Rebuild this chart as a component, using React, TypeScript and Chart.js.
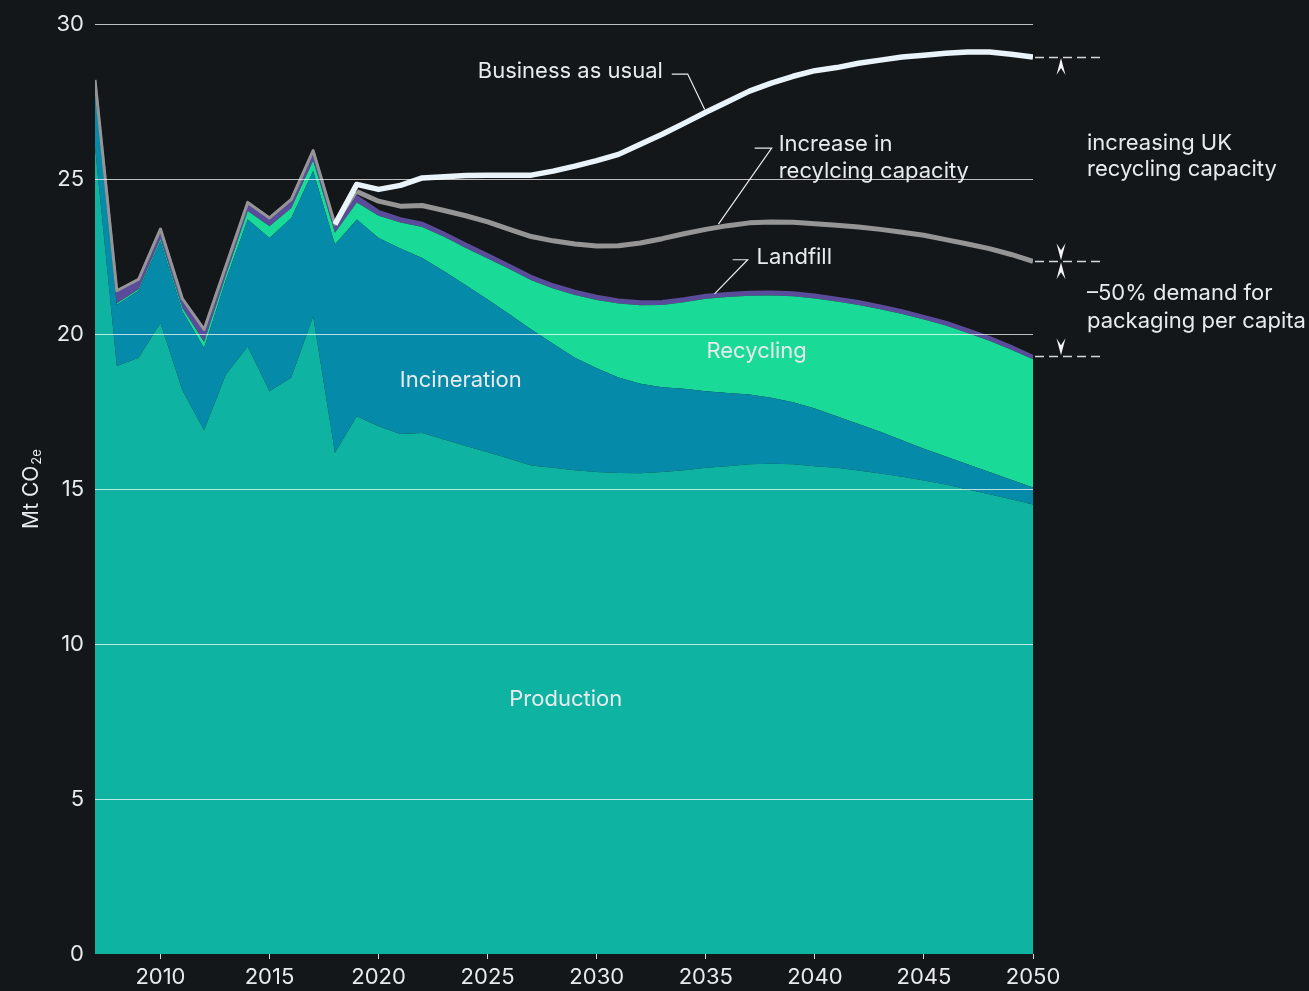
import React, { useEffect, useRef } from "react";
import { Chart, registerables } from "chart.js";

Chart.register(...registerables);

// ---------- DATA ----------
const years = [
  2007, 2008, 2009, 2010, 2011, 2012, 2013, 2014, 2015, 2016, 2017, 2018, 2019,
  2020, 2021, 2022, 2023, 2024, 2025, 2026, 2027, 2028, 2029,
  2030, 2031, 2032, 2033, 2034, 2035, 2036, 2037, 2038, 2039,
  2040, 2041, 2042, 2043, 2044, 2045, 2046, 2047, 2048, 2049, 2050,
];

const production = [
  26.05, 18.97, 19.24, 20.36, 18.2, 16.9, 18.7, 19.6, 18.16, 18.6, 20.58, 16.17, 17.35,
  17.03, 16.78, 16.81, 16.6, 16.39, 16.19, 15.98, 15.76, 15.69, 15.61,
  15.55, 15.52, 15.51, 15.55, 15.61, 15.69, 15.74, 15.8, 15.82, 15.8,
  15.74, 15.69, 15.6, 15.5, 15.4, 15.28, 15.15, 14.99, 14.83, 14.67, 14.5,
];

const incineration = [
  1.8, 1.98, 2.16, 2.64, 2.55, 2.65, 3.05, 4.1, 4.94, 5.15, 4.68, 6.72, 6.35,
  6.07, 5.98, 5.65, 5.43, 5.19, 4.93, 4.66, 4.39, 4.0, 3.63,
  3.35, 3.08, 2.89, 2.74, 2.63, 2.47, 2.36, 2.25, 2.13, 2.0,
  1.86, 1.66, 1.5, 1.35, 1.18, 1.02, 0.9, 0.81, 0.72, 0.63, 0.55,
];

const recycling = [
  0.0, 0.05, 0.05, 0.08, 0.1, 0.2, 0.15, 0.27, 0.38, 0.32, 0.34, 0.38, 0.55,
  0.72, 0.84, 1.0, 1.11, 1.2, 1.32, 1.46, 1.59, 1.78, 2.02,
  2.2, 2.39, 2.53, 2.65, 2.79, 2.98, 3.1, 3.19, 3.3, 3.42,
  3.55, 3.7, 3.84, 3.95, 4.07, 4.17, 4.23, 4.24, 4.24, 4.2, 4.14,
];

const landfill = [
  0.35, 0.4, 0.32, 0.31, 0.3, 0.4, 0.3, 0.28, 0.27, 0.28, 0.32, 0.27, 0.2,
  0.15, 0.13, 0.13, 0.13, 0.13, 0.13, 0.13, 0.13, 0.13, 0.13,
  0.13, 0.12, 0.12, 0.12, 0.12, 0.12, 0.12, 0.12, 0.12, 0.12,
  0.12, 0.12, 0.12, 0.12, 0.11, 0.11, 0.11, 0.11, 0.11, 0.11, 0.1,
];

// "Increase in recycling capacity" scenario total
const recyclingCapacity = [
  28.2, 21.4, 21.77, 23.39, 21.15, 20.15, 22.2, 24.25, 23.75, 24.35, 25.92, 23.54, 24.6,
  24.29, 24.13, 24.15, 23.99, 23.82, 23.62, 23.38, 23.15, 23.01, 22.91,
  22.84, 22.85, 22.94, 23.08, 23.24, 23.38, 23.5, 23.59, 23.62, 23.61,
  23.56, 23.51, 23.46, 23.38, 23.29, 23.19, 23.05, 22.91, 22.76, 22.57, 22.35,
];

// Business as usual total
const businessAsUsual = [
  null, null, null, null, null, null, null, null, null, null, null, 23.54, 24.83,
  24.67, 24.8, 25.04, 25.08, 25.12, 25.13, 25.13, 25.13, 25.26, 25.42,
  25.6, 25.8, 26.13, 26.45, 26.8, 27.16, 27.5, 27.84, 28.1, 28.32,
  28.5, 28.6, 28.74, 28.84, 28.94, 29.0, 29.06, 29.1, 29.1, 29.03, 28.94,
];

const yTicks = [0, 5, 10, 15, 20, 25, 30];
const xTicks = [2010, 2015, 2020, 2025, 2030, 2035, 2040, 2045, 2050];

// ---------- STYLE ----------
const BG = "#131719";
const C_PRODUCTION = "#0fb3a1";
const C_INCINERATION = "#068aa9";
const C_RECYCLING = "#19da96";
const C_LANDFILL = "#5a4b9b";
const C_GREY = "#959595";
const C_BAU = "#e9f3fa";
const TEXT = "#e8ebee";
const FONT = "Inter, 'Noto Sans', 'DejaVu Sans', sans-serif";
const FS = 22;

const areaLabels = [
  { text: "Production", x: 2028.58, y: 8.2 },
  { text: "Incineration", x: 2023.77, y: 18.5 },
  { text: "Recycling", x: 2037.33, y: 19.45 },
];

const callouts = [
  {
    lines: ["Business as usual"],
    align: "right",
    x: 2033.03,
    y: 28.49,
    leader: [[2033.44, 28.39], [2034.17, 28.39], [2034.95, 27.25]],
  },
  {
    lines: ["Increase in", "recylcing capacity"],
    align: "left",
    x: 2038.34,
    y: 26.13,
    leader: [[2037.24, 26.0], [2038.02, 26.0], [2035.58, 23.55]],
  },
  {
    lines: ["Landfill"],
    align: "left",
    x: 2037.33,
    y: 22.47,
    leader: [[2036.23, 22.4], [2036.92, 22.4], [2035.4, 21.3]],
  },
];

const sideNotes = [
  { text: "increasing UK", y: 26.17 },
  { text: "recycling capacity", y: 25.3 },
  { text: "\u201350% demand for", y: 21.3 },
  { text: "packaging per capita", y: 20.4 },
];

const toPoints = (arr: (number | null)[]) => years.map((yr, i) => ({ x: yr, y: arr[i] }));

const decorPlugin = {
  id: "decor",
  beforeDraw(chart: any) {
    const { ctx, width, height } = chart;
    ctx.save();
    ctx.fillStyle = BG;
    ctx.fillRect(0, 0, width, height);
    ctx.restore();
  },
  afterDatasetsDraw(chart: any) {
    const { ctx, chartArea } = chart;
    const xs = chart.scales.x;
    const ys = chart.scales.y;
    const px = (v: number) => xs.getPixelForValue(v);
    const py = (v: number) => ys.getPixelForValue(v);
    ctx.save();
    ctx.fillStyle = TEXT;
    ctx.strokeStyle = TEXT;
    ctx.font = `${FS}px ${FONT}`;
    ctx.textBaseline = "middle";

    // area labels
    ctx.textAlign = "center";
    areaLabels.forEach((l) => ctx.fillText(l.text, px(l.x), py(l.y)));

    // callouts
    ctx.lineWidth = 1.2;
    callouts.forEach((c) => {
      ctx.textAlign = c.align as CanvasTextAlign;
      c.lines.forEach((t, i) => ctx.fillText(t, px(c.x), py(c.y) + i * 27));
      ctx.beginPath();
      c.leader.forEach(([lx, ly], i) => {
        if (i === 0) ctx.moveTo(px(lx), py(ly));
        else ctx.lineTo(px(lx), py(ly));
      });
      ctx.stroke();
    });

    // right-hand markers
    const last = years.length - 1;
    const total = production[last] + incineration[last] + recycling[last] + landfill[last];
    const levels = [businessAsUsual[last] as number, recyclingCapacity[last], total];
    const x0 = chartArea.right + 2;
    const x1 = chartArea.right + 70;
    ctx.strokeStyle = "#d4d6d8";
    ctx.lineWidth = 1.5;
    ctx.setLineDash([9, 5]);
    levels.forEach((v) => {
      const yy = Math.round(py(v)) + 0.5;
      ctx.beginPath();
      ctx.moveTo(x0, yy);
      ctx.lineTo(x1, yy);
      ctx.stroke();
    });
    ctx.setLineDash([]);

    const ax = chartArea.right + 28;
    const arrow = (tip: number, d: number) => {
      ctx.beginPath();
      ctx.moveTo(ax, tip);
      ctx.lineTo(ax + 4.5, tip + 17 * d);
      ctx.lineTo(ax, tip + 10 * d);
      ctx.lineTo(ax - 4.5, tip + 17 * d);
      ctx.closePath();
      ctx.fillStyle = "#f2f4f5";
      ctx.fill();
    };
    arrow(py(levels[0]) + 1, 1);
    arrow(py(levels[1]) - 1, -1);
    arrow(py(levels[1]) + 1, 1);
    arrow(py(levels[2]) - 1, -1);

    ctx.fillStyle = TEXT;
    ctx.textAlign = "left";
    ctx.font = `${FS}px ${FONT}`;
    sideNotes.forEach((n) => ctx.fillText(n.text, chartArea.right + 54, py(n.y)));

    // y-axis title with subscript
    ctx.save();
    const midY = (chartArea.top + chartArea.bottom) / 2;
    ctx.translate(38, midY + 40);
    ctx.rotate(-Math.PI / 2);
    ctx.textAlign = "left";
    ctx.textBaseline = "alphabetic";
    ctx.font = `21px ${FONT}`;
    ctx.fillText("Mt CO", 0, 0);
    const w = ctx.measureText("Mt CO").width;
    ctx.font = `13px ${FONT}`;
    ctx.fillText("2e", w + 1, 3);
    ctx.restore();

    ctx.restore();
  },
};

export default function App() {
  const ref = useRef<HTMLCanvasElement>(null);

  useEffect(() => {
    document.body.style.margin = "0";
    document.body.style.background = BG;
    const canvas = ref.current!;
    const areaBase = {
      type: "line" as const,
      stack: "emissions",
      pointRadius: 0,
      borderWidth: 0,
      tension: 0,
    };
    const chart = new Chart(canvas, {
      type: "line",
      data: {
        datasets: [
          {
            label: "Business as usual",
            data: toPoints(businessAsUsual),
            stack: "bau",
            borderColor: C_BAU,
            borderWidth: 5.5,
            pointRadius: 0,
            fill: false,
            tension: 0,
            borderJoinStyle: "round",
          },
          {
            label: "Increase in recycling capacity",
            data: toPoints(recyclingCapacity),
            stack: "capacity",
            borderColor: C_GREY,
            borderWidth: 5,
            pointRadius: 0,
            fill: false,
            tension: 0,
            borderJoinStyle: "round",
            segment: {
              borderWidth: (c: any) => (c.p0DataIndex < 12 ? 3 : 5),
            },
          },
          {
            ...areaBase,
            label: "Production",
            data: toPoints(production),
            backgroundColor: C_PRODUCTION,
            borderColor: C_PRODUCTION,
            fill: "origin",
          },
          {
            ...areaBase,
            label: "Incineration",
            data: toPoints(incineration),
            backgroundColor: C_INCINERATION,
            borderColor: C_INCINERATION,
            fill: "-1",
          },
          {
            ...areaBase,
            label: "Recycling",
            data: toPoints(recycling),
            backgroundColor: C_RECYCLING,
            borderColor: C_RECYCLING,
            fill: "-1",
          },
          {
            ...areaBase,
            label: "Landfill",
            data: toPoints(landfill),
            backgroundColor: C_LANDFILL,
            borderColor: C_LANDFILL,
            borderWidth: 2.5,
            fill: "-1",
          },
        ] as any,
      },
      options: {
        responsive: false,
        devicePixelRatio: 1,
        animation: false,
        layout: { padding: { left: 0, right: 276, top: 23, bottom: 0 } },
        plugins: {
          legend: { display: false },
          tooltip: { enabled: false },
        },
        elements: { line: { borderJoinStyle: "round" } },
        scales: {
          x: {
            type: "linear",
            min: 2007,
            max: 2050,
            afterFit: (s: any) => {
              s.height = 37;
            },
            afterBuildTicks: (s: any) => {
              s.ticks = xTicks.map((v) => ({ value: v }));
            },
            border: { display: false },
            grid: {
              drawOnChartArea: false,
              drawTicks: true,
              tickLength: 5,
              color: "#d4d6d8",
            },
            ticks: {
              color: TEXT,
              padding: 5,
              maxRotation: 0,
              autoSkip: false,
              font: { family: FONT, size: FS },
              callback: (v: any) => String(v),
            },
          },
          y: {
            type: "linear",
            stacked: true,
            min: 0,
            max: 30,
            afterFit: (s: any) => {
              s.width = 95;
            },
            afterBuildTicks: (s: any) => {
              s.ticks = yTicks.map((v) => ({ value: v }));
            },
            border: { display: false },
            grid: {
              z: 1,
              drawTicks: false,
              lineWidth: 1,
              color: (c: any) => (c.tick && c.tick.value === 0 ? "rgba(0,0,0,0)" : "rgba(255,255,255,0.72)"),
            },
            ticks: {
              color: TEXT,
              padding: 11,
              font: { family: FONT, size: FS },
              callback: (v: any) => String(v),
            },
          },
        },
      } as any,
      plugins: [decorPlugin],
    });
    return () => chart.destroy();
  }, []);

  return (
    <div style={{ width: 1309, height: 991, background: BG }}>
      <canvas ref={ref} width={1309} height={991} style={{ display: "block", width: 1309, height: 991 }} />
    </div>
  );
}
